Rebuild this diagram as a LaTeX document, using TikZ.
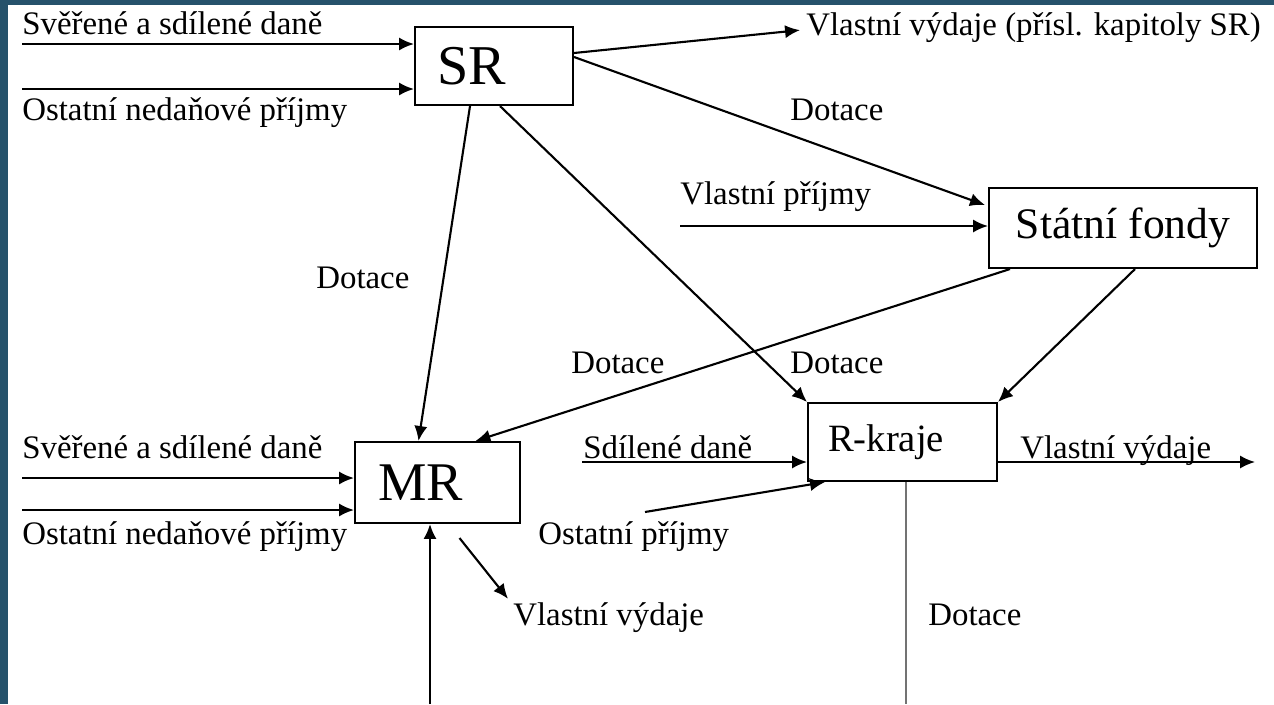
\documentclass[tikz,border=0pt]{standalone}
\usepackage{fontspec}
\setmainfont{Liberation Serif}
\usetikzlibrary{arrows.meta}
\definecolor{slide}{rgb}{.15,.32,.42}
\definecolor{faint}{gray}{.45}

\begin{document}
\begin{tikzpicture}[x=.02cm, y=-.02cm,
	arr/.style={-{Latex[length=8.5pt,width=7.5pt]}, line width=1.2pt},
	lbl/.style={font=\fontsize{18.7}{22}\selectfont, inner sep=0pt, anchor=base west},
	box/.style={draw, line width=1.2pt}]

	\useasboundingbox (0,0) rectangle (1274,704);
	\fill[slide] (0,0) rectangle (1274,704);
	\fill[white] (8,5) rectangle (1274,704);

	\node[box, font=\fontsize{32}{36}\selectfont, minimum height=1.56cm, inner xsep=.44cm, text width=2.28cm, align=left] (sr) at (494,66) {SR};
	\node[box, font=\fontsize{24.8}{28}\selectfont, minimum width=5.36cm, minimum height=1.6cm] (sf) at (1123,228) {Státní fondy};
	\node[box, font=\fontsize{31}{35}\selectfont, minimum height=1.62cm, inner xsep=.46cm, text width=2.38cm, align=left] (mr) at (437.5,482.5) {MR};
	\node[box, font=\fontsize{22}{26}\selectfont, minimum height=1.56cm, inner xsep=.4cm, text width=2.98cm, align=left] (rk) at (902.5,442) {R-kraje};

	\node[lbl] (lblA) at (22,34) {Svěřené a sdílené daně};
	\node[lbl] (lblB) at (22,120) {Ostatní nedaňové příjmy};
	\node[lbl] (vydsr) at (806,35) {Vlastní výdaje (přísl. kapitoly SR)};
	\node[lbl] (dotSF) at (790,120) {Dotace};
	\node[lbl] (vlpr) at (680,204) {Vlastní příjmy};
	\node[lbl] (dotMR) at (316,288) {Dotace};
	\node[lbl] (dotFM) at (571,373) {Dotace};
	\node[lbl] (dotRK) at (790,373) {Dotace};
	\node[lbl] (lblC) at (22,458) {Svěřené a sdílené daně};
	\node[lbl] (lblD) at (22,544) {Ostatní nedaňové příjmy};
	\node[lbl] (sdd) at (583,458) {Sdílené daně};
	\node[lbl] (ostp) at (538,544) {Ostatní příjmy};
	\node[lbl] (vydrk) at (1020,458) {Vlastní výdaje};
	\node[lbl] (vydmr) at (513,625) {Vlastní výdaje};
	\node[lbl] (dotB) at (928,625) {Dotace};

	\coordinate (inA) at (22,44);
	\coordinate (inB) at (22,89);
	\coordinate (inSF) at (680,226);
	\coordinate (inC) at (22,478);
	\coordinate (inD) at (22,510);
	\coordinate (inE) at (430,704);
	\coordinate (inF) at (582,462);
	\coordinate (inG) at (645,512);
	\coordinate (outRK) at (1255,462);
	\coordinate (outB) at (906,704);

	\draw[arr] (inA) -- (inA -| sr.west);
	\draw[arr] (inB) -- (inB -| sr.west);
	\draw[arr] ([shift={(0,-13)}]sr.east) -- ([shift={(-6,3)}]vydsr.west);
	\draw[arr] ([shift={(0,-9)}]sr.east) -- ([shift={(-3,-23)}]sf.west);
	\draw[arr] ([shift={(-24,0)}]sr.south) -- ([shift={(-19,0)}]mr.north);
	\draw[arr] ([shift={(6,0)}]sr.south) -- (rk.north west);
	\draw[arr] (inSF) -- (inSF -| sf.west);
	\draw[arr] ([shift={(-113,0)}]sf.south) -- ([shift={(38,0)}]mr.north);
	\draw[arr] ([shift={(12,0)}]sf.south) -- (rk.north east);
	\draw[arr] (inC) -- (inC -| mr.west);
	\draw[arr] (inD) -- (inD -| mr.west);
	\draw[arr] (inE) -- (inE |- mr.south);
	\draw[arr] ([shift={(22,14)}]mr.south) -- ([shift={(-5,-3)}]vydmr.north west);
	\draw[arr] (inF) -- (inF -| rk.west);
	\draw[arr] (inG) -- ([shift={(18,0)}]rk.south west);
	\draw[arr] (rk.east |- outRK) -- (outRK);
	\draw[faint, line width=1pt] (outB |- rk.south) -- (outB);
	\end{tikzpicture}
\end{document}
